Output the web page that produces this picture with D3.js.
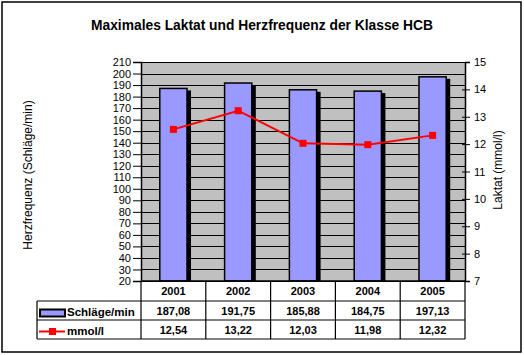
<!DOCTYPE html>
<html>
<head>
<meta charset="utf-8">
<script src="https://cdn.jsdelivr.net/npm/d3@7"></script>
<style>
  body { margin: 0; background: #fff; }
  svg text { font-family: "Liberation Sans", Arial, sans-serif; fill: #000; }
</style>
</head>
<body>
<div id="chart"></div>
<script>
const years = ["2001", "2002", "2003", "2004", "2005"];
const beats = [187.08, 191.75, 185.88, 184.75, 197.13];
const lactate = [12.54, 13.22, 12.03, 11.98, 12.32];
const leftTicks = d3.range(20, 211, 10);
const rightTicks = [7, 8, 9, 10, 11, 12, 13, 14, 15];
const seriesNames = ["Schläge/min", "mmol/l"];

const de = d3.formatLocale({ decimal: ",", thousands: ".", grouping: [3], currency: ["", " €"] });
const fmt = de.format(".2f");

const W = 524, H = 355;
const plot = { left: 141, right: 465, top: 62, bottom: 281 };
const tableLeft = 37;
const rowLines = [301, 320, 339];

const svg = d3.select("#chart").append("svg")
    .attr("width", W)
    .attr("height", H);

// outer frame
svg.append("rect")
    .attr("x", 2).attr("y", 2)
    .attr("width", 519).attr("height", 350)
    .attr("fill", "#fff")
    .attr("stroke", "#000")
    .attr("stroke-width", 1.5);

const x = d3.scaleBand().domain(years).range([plot.left, plot.right]);
const yL = d3.scaleLinear().domain([20, 210]).range([plot.bottom, plot.top]);
const yR = d3.scaleLinear().domain([7, 15]).range([plot.bottom, plot.top]);

// plot background
svg.append("rect")
    .attr("x", plot.left).attr("y", plot.top)
    .attr("width", plot.right - plot.left).attr("height", plot.bottom - plot.top)
    .attr("fill", "#c0c0c0");

// gridlines
svg.append("g").selectAll("line")
    .data(leftTicks)
    .enter().append("line")
    .attr("x1", plot.left).attr("x2", plot.right)
    .attr("y1", d => Math.round(yL(d)) + 0.5).attr("y2", d => Math.round(yL(d)) + 0.5)
    .attr("stroke", "#000").attr("stroke-width", 1);

// bars with shadow
const bw = x.bandwidth() * 0.42;
const bars = svg.append("g");
bars.selectAll(".shadow")
    .data(beats)
    .enter().append("rect")
    .attr("class", "shadow")
    .attr("x", (d, i) => x(years[i]) + (x.bandwidth() - bw) / 2 + 4)
    .attr("y", d => yL(d) + 2)
    .attr("width", bw)
    .attr("height", d => plot.bottom - yL(d) - 2)
    .attr("fill", "#000");
bars.selectAll(".bar")
    .data(beats)
    .enter().append("rect")
    .attr("class", "bar")
    .attr("x", (d, i) => x(years[i]) + (x.bandwidth() - bw) / 2)
    .attr("y", d => yL(d))
    .attr("width", bw)
    .attr("height", d => plot.bottom - yL(d))
    .attr("fill", "#9999ff")
    .attr("stroke", "#000")
    .attr("stroke-width", 1.5);

// lactate line
const line = d3.line()
    .x((d, i) => x(years[i]) + x.bandwidth() / 2)
    .y(d => yR(d));
svg.append("path")
    .datum(lactate)
    .attr("d", line)
    .attr("fill", "none")
    .attr("stroke", "#ff0000")
    .attr("stroke-width", 2);
svg.append("g").selectAll("rect")
    .data(lactate)
    .enter().append("rect")
    .attr("x", (d, i) => x(years[i]) + x.bandwidth() / 2 - 3.5)
    .attr("y", d => yR(d) - 3.5)
    .attr("width", 7).attr("height", 7)
    .attr("fill", "#ff0000");

// left axis
const leftAxis = svg.append("g")
    .attr("transform", `translate(${plot.left},0)`)
    .call(d3.axisLeft(yL).tickValues(leftTicks).tickSize(8).tickPadding(2));
leftAxis.select(".domain").attr("stroke", "#000").attr("stroke-width", 1.5);
leftAxis.selectAll("text").attr("font-size", "11px");

// right axis
const rightAxis = svg.append("g")
    .attr("transform", `translate(${plot.right},0)`)
    .call(d3.axisRight(yR).tickValues(rightTicks).tickSize(5).tickPadding(4));
rightAxis.select(".domain").attr("stroke", "#000").attr("stroke-width", 1.5);
rightAxis.selectAll(".tick line").attr("x1", -3);
rightAxis.selectAll("text").attr("font-size", "11px");

// bottom axis line
svg.append("line")
    .attr("x1", plot.left).attr("x2", plot.right)
    .attr("y1", plot.bottom).attr("y2", plot.bottom)
    .attr("stroke", "#000").attr("stroke-width", 1.5);

// data table
const table = svg.append("g").attr("stroke", "#000").attr("stroke-width", 1.2);
rowLines.forEach(y => {
    table.append("line").attr("x1", tableLeft).attr("x2", plot.right).attr("y1", y).attr("y2", y);
});
table.append("line").attr("x1", tableLeft).attr("x2", tableLeft).attr("y1", rowLines[0]).attr("y2", rowLines[2]);
years.forEach(c => {
    table.append("line").attr("x1", x(c)).attr("x2", x(c)).attr("y1", plot.bottom).attr("y2", rowLines[2]);
});
table.append("line").attr("x1", plot.right).attr("x2", plot.right).attr("y1", plot.bottom).attr("y2", rowLines[2]);

const cellText = svg.append("g")
    .attr("font-size", "11px").attr("font-weight", "bold").attr("text-anchor", "middle");
years.forEach((c, i) => {
    const cx = x(c) + x.bandwidth() / 2;
    cellText.append("text").attr("x", cx).attr("y", 295).text(c);
    cellText.append("text").attr("x", cx).attr("y", 315).text(fmt(beats[i]));
    cellText.append("text").attr("x", cx).attr("y", 334).text(fmt(lactate[i]));
});

// legend keys in table
svg.append("rect")
    .attr("x", 40).attr("y", 309.5)
    .attr("width", 25).attr("height", 7)
    .attr("fill", "#9999ff").attr("stroke", "#000").attr("stroke-width", 2);
svg.append("line")
    .attr("x1", 39).attr("x2", 65).attr("y1", 331.5).attr("y2", 331.5)
    .attr("stroke", "#ff0000").attr("stroke-width", 2);
svg.append("rect")
    .attr("x", 49).attr("y", 328).attr("width", 7).attr("height", 7)
    .attr("fill", "#ff0000");
svg.append("text").attr("x", 67).attr("y", 316)
    .attr("font-size", "11.5px").attr("font-weight", "bold").text(seriesNames[0]);
svg.append("text").attr("x", 67).attr("y", 335)
    .attr("font-size", "11.5px").attr("font-weight", "bold").text(seriesNames[1]);

// title
svg.append("text")
    .attr("x", 262).attr("y", 30)
    .attr("text-anchor", "middle")
    .attr("font-size", "13.8px").attr("font-weight", "bold")
    .text("Maximales Laktat und Herzfrequenz der Klasse HCB");

// axis titles
svg.append("text")
    .attr("transform", "translate(32,175) rotate(-90)")
    .attr("text-anchor", "middle")
    .attr("font-size", "12px")
    .text("Herzfrequenz (Schläge/min)");
svg.append("text")
    .attr("transform", "translate(502,170) rotate(-90)")
    .attr("text-anchor", "middle")
    .attr("font-size", "12px")
    .text("Laktat (mmol/l)");
</script>
</body>
</html>
